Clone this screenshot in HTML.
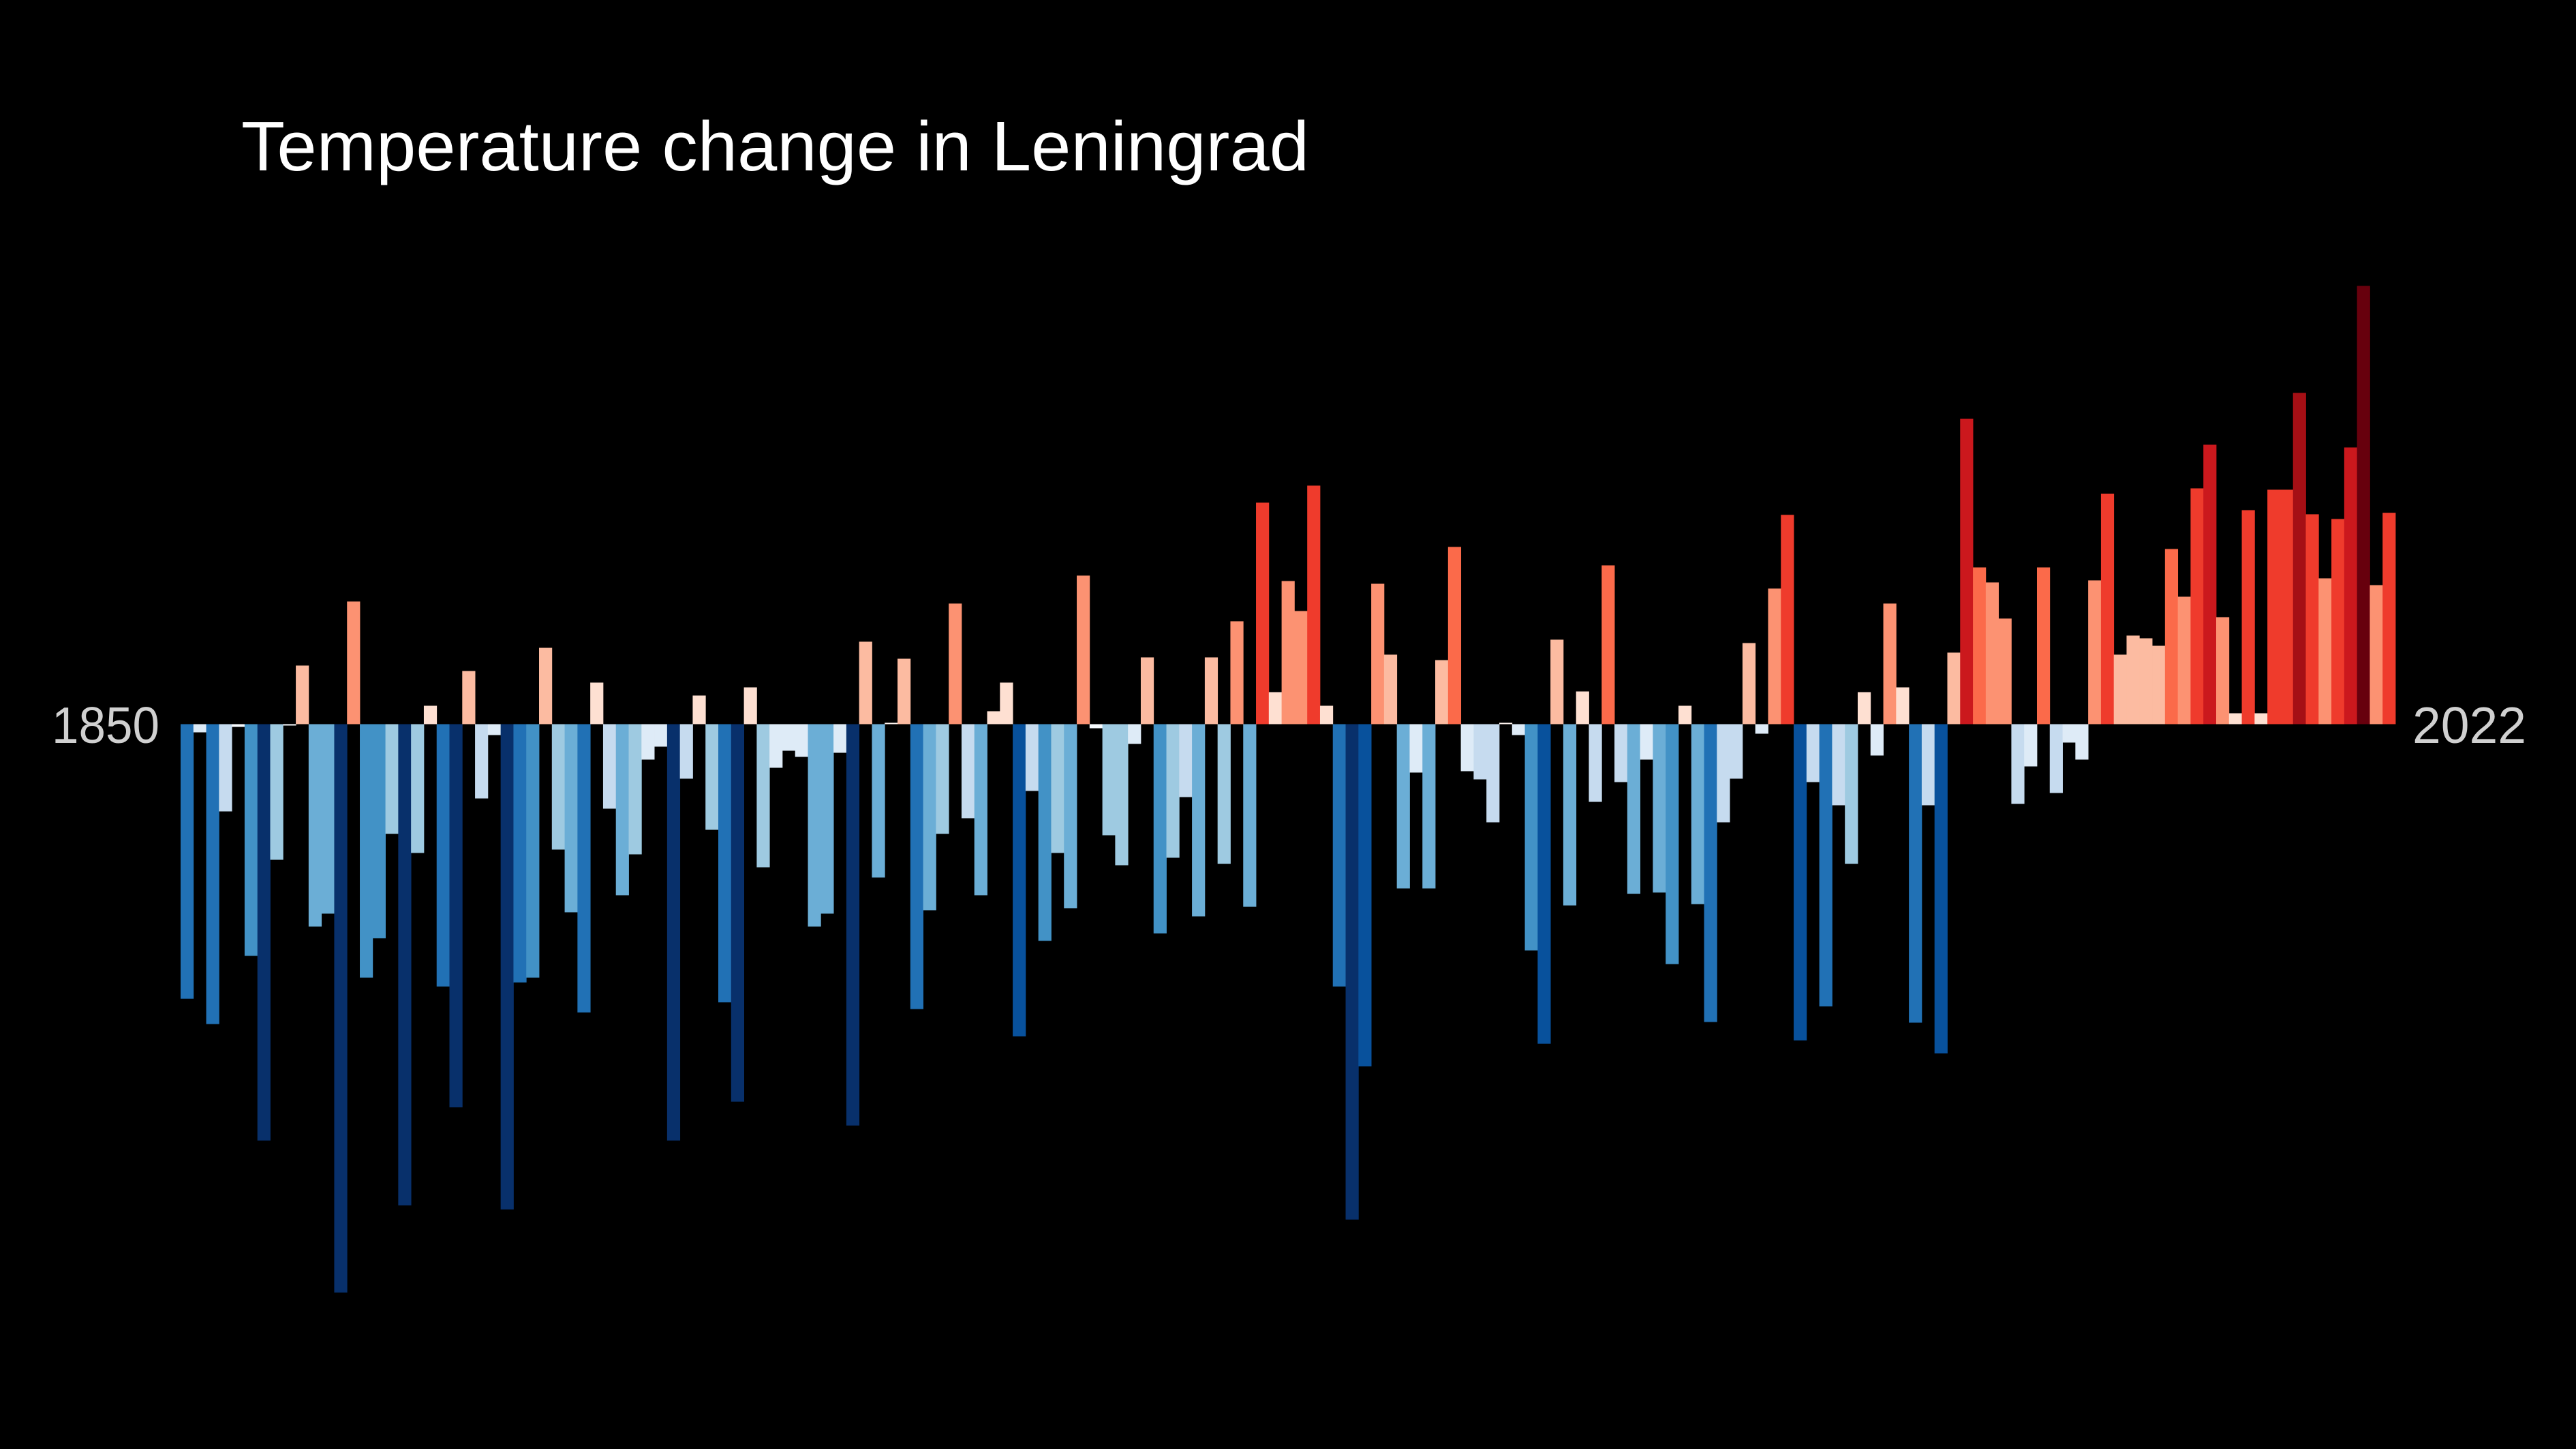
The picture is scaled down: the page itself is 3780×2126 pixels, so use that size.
<!DOCTYPE html>
<html><head><meta charset="utf-8"><style>
html,body{margin:0;padding:0;background:#000;}
svg{display:block;}
</style></head><body>
<svg id="chart" width="3780" height="2126" viewBox="0 0 3780 2126" xmlns="http://www.w3.org/2000/svg">
<rect x="0" y="0" width="3780" height="2126" fill="#000"/>
<text x="354" y="250" font-family="Liberation Sans, sans-serif" font-size="103" fill="#fff" textLength="1567" lengthAdjust="spacingAndGlyphs">Temperature change in Leningrad</text>
<text x="76" y="1090" font-family="Liberation Sans, sans-serif" font-size="75" fill="#d0d0d0" textLength="158" lengthAdjust="spacingAndGlyphs">1850</text>
<text x="3540" y="1090" font-family="Liberation Sans, sans-serif" font-size="75" fill="#d0d0d0" textLength="167" lengthAdjust="spacingAndGlyphs">2022</text>
<g id="bars"></g>
</svg>
<script>
const startYear = 1850;
const endYear = 2022;
// anomaly values (relative units), one per year 1850..2022
const anomalies = [
-403,-12,-440,-128,-4,-340,-611,-199,-2,86,
-297,-278,-834,180,-372,-314,-161,-706,-189,27,
-385,-562,78,-109,-16,-712,-379,-372,112,-184,
-276,-423,61,-124,-251,-191,-52,-33,-611,-80,
42,-155,-408,-554,54,-210,-64,-39,-48,-297,
-278,-42,-589,121,-225,2,96,-418,-273,-161,
177,-138,-251,19,61,-458,-98,-318,-189,-270,
218,-6,-163,-207,-29,98,-307,-196,-107,-282,
98,-205,151,-268,325,47,210,166,350,27,
-385,-727,-502,206,102,-241,-71,-241,94,260,
-69,-81,-144,2,-16,-332,-469,124,-266,48,
-114,233,-85,-249,-52,-247,-352,27,-264,-437,
-144,-80,119,-14,199,307,-464,-85,-414,-119,
-205,47,-46,177,54,-438,-119,-483,105,448,
230,208,155,-117,-62,230,-101,-27,-52,211,
338,102,130,126,115,257,187,346,410,157,
16,314,16,344,344,486,308,214,301,406,
643,204,310
];
const colorThresholds = [10, 75, 150, 225, 300, 375, 450, 525];
const bluePalette = ['#f7fbff','#deebf7','#c6dbef','#9ecae1','#6baed6','#4292c6','#2171b5','#08519c','#08306b'];
const redPalette = ['#fff5f0','#fee0d2','#fcbba1','#fc9272','#fb6a4a','#ef3b2c','#cb181d','#a50f15','#67000d'];

const plotLeft = 265, plotRight = 3515, baselineY = 1062.5;
const n = endYear - startYear + 1;
const bw = (plotRight - plotLeft) / n;
function xScale(i){ return plotLeft + i * bw; }
function yScale(v){ return baselineY - v * 1.0; }
function colorFor(v){
  const a = Math.abs(v);
  let k = 0;
  for (let t = 0; t < colorThresholds.length; t++) if (a >= colorThresholds[t]) k = t + 1;
  return v >= 0 ? redPalette[k] : bluePalette[k];
}
const g = document.getElementById('bars');
const NS = 'http://www.w3.org/2000/svg';
anomalies.forEach(function(v, i){
  const r = document.createElementNS(NS, 'rect');
  const y0 = yScale(0), y1 = yScale(v);
  r.setAttribute('x', xScale(i).toFixed(2));
  r.setAttribute('width', (bw + 0.4).toFixed(2));
  r.setAttribute('y', Math.min(y0, y1).toFixed(2));
  r.setAttribute('height', Math.max(Math.abs(y1 - y0), 0.5).toFixed(2));
  r.setAttribute('fill', colorFor(v));
  
  
  g.appendChild(r);
});
</script>
</body></html>
